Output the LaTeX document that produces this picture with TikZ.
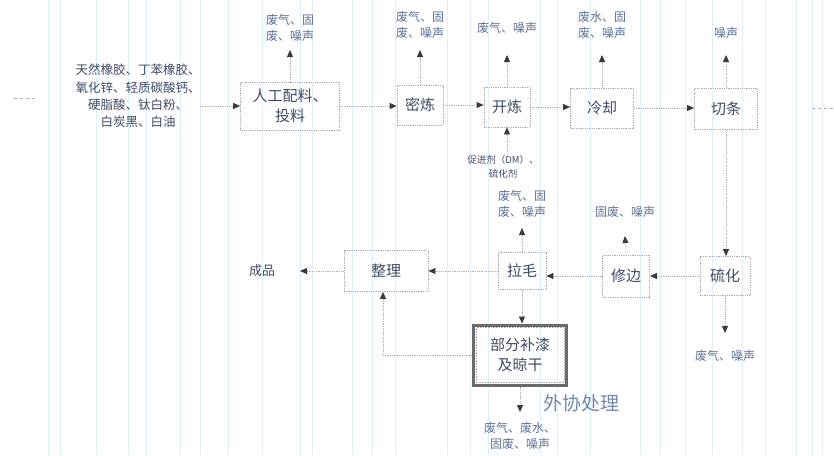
\documentclass[tikz,border=0pt]{standalone}
\usepackage{fontspec}
\setmainfont{Noto Sans CJK SC}
\usetikzlibrary{arrows.meta,calc}
\definecolor{boxline}{HTML}{A8ADB5}
\definecolor{boxtext}{HTML}{3E4A63}
\definecolor{emtext}{HTML}{5C6F94}
\definecolor{flowline}{HTML}{A9B0BC}
\definecolor{tipcol}{HTML}{3A3A3A}
\definecolor{thickcol}{HTML}{6A6A6A}
\definecolor{hand}{HTML}{7086AE}
\definecolor{scanline}{HTML}{DDF1F8}
\tikzset{
  box/.style={draw=boxline, densely dotted, line width=0.8pt, text=boxtext,
    font=\fontsize{15}{20}\selectfont, align=center, inner sep=0pt},
  emis/.style={text=emtext, font=\fontsize{12}{16}\selectfont, align=center, inner sep=0pt},
  flow/.style={draw=flowline, densely dotted, line width=0.8pt,
    -{Triangle[length=7pt,width=6pt,color=tipcol]}},
  plainline/.style={draw=flowline, densely dotted, line width=0.8pt},
}
\begin{document}
\begin{tikzpicture}[x=1pt,y=-1pt]
\useasboundingbox (0,0) rectangle (834,455);
% faint scan lines
\foreach \xx in {48,60,96,128,146,180,200,228,262,300,312,352,372,395,447,470,488,540,557,590,640,660,685,712,742,765,796,812,822}
  \draw[scanline, line width=0.9pt] (\xx,0) -- (\xx,455);

% input materials
\node[text=boxtext, font=\fontsize{12.5}{17.3}\selectfont, align=center, inner sep=0pt] (in) at (138,96)
  {天然橡胶、丁苯橡胶、\\氧化锌、轻质碳酸钙、\\硬脂酸、钛白粉、\\白炭黑、白油};

% process boxes
\node[box, minimum width=99, minimum height=48] (b1) at (290,106) {人工配料、\\投料};
\node[box, minimum width=46, minimum height=40] (b2) at (420,105) {密炼};
\node[box, minimum width=46, minimum height=40] (b3) at (507,107) {开炼};
\node[box, minimum width=63, minimum height=40] (b4) at (602,108) {冷却};
\node[box, minimum width=63, minimum height=41] (b5) at (726,109) {切条};
\node[box, minimum width=50, minimum height=39] (b6) at (725,276) {硫化};
\node[box, minimum width=47, minimum height=42] (b7) at (626,276) {修边};
\node[box, minimum width=48, minimum height=37] (b8) at (522,271) {拉毛};
\node[box, minimum width=84, minimum height=41] (b9) at (386,271) {整理};
\node[text=boxtext, font=\fontsize{13}{16}\selectfont, inner sep=0pt] (out) at (262,271) {成品};
\node[draw=thickcol, line width=3pt, text=boxtext, font=\fontsize{15}{20}\selectfont,
  align=center, minimum width=93, minimum height=60, inner sep=0pt] (b10) at (520,355) {部分补漆\\及晾干};
\draw[boxline, densely dotted, line width=0.6pt] ([shift={(4,4)}]b10.north west) rectangle ([shift={(-4,-4)}]b10.south east);

% emission labels
\node[emis] (e1) at (290,28) {废气、固\\废、噪声};
\node[emis] (e2) at (420,25) {废气、固\\废、噪声};
\node[emis] (e3) at (507,28) {废气、噪声};
\node[emis] (e4) at (602,25) {废水、固\\废、噪声};
\node[emis] (e5) at (726,33) {噪声};
\node[emis] (e6) at (725,356) {废气、噪声};
\node[emis] (e7) at (625,212) {固废、噪声};
\node[emis] (e8) at (522,204) {废气、固\\废、噪声};
\node[emis] (e9) at (520,436) {废气、废水、\\固废、噪声};
\node[text=boxtext, font=\fontsize{9.5}{14}\selectfont, align=center, inner sep=0pt] (dm) at (503,167) {促进剂（DM）、\\硫化剂};
\node[text=hand, font=\fontsize{19}{22}\selectfont, inner sep=0pt] (wx) at (581,403) {外协处理};

% coordinates for arrow ends
\coordinate (t1) at (290,50);
\coordinate (t2) at (420,50);
\coordinate (t3) at (507,55);
\coordinate (t4) at (602,55);
\coordinate (t5) at (726,55);
\coordinate (t6) at (725,333);
\coordinate (t7) at (625,236);
\coordinate (t8) at (522,228);
\coordinate (t9) at (520,412);
\coordinate (s1) at (200,106);
\coordinate (o1) at (300,271);
\coordinate (L1) at (14,98);
\coordinate (L2) at (36,98);
\coordinate (R1) at (812,108);
\coordinate (R2) at (834,108);
\coordinate (dmtop) at (507,154);

% stray dashes
\draw[plainline, dashed] (L1) -- (L2);
\draw[plainline, dashed] (R1) -- (R2);

% main flow
\draw[flow] (s1) -- (b1.west);
\draw[flow] (b1.east) -- (b2.west |- b1.east);
\draw[flow] (b2.east) -- (b3.west |- b2.east);
\draw[flow] (b3.east) -- (b4.west |- b3.east);
\draw[flow] (b4.east) -- (b5.west |- b4.east);
\draw[flow] (b5.south) -- (b6.north -| b5.south);
\draw[flow] (b6.west) -- (b7.east |- b6.west);
\draw[flow] (b7.west) -- (b8.east |- b7.west);
\draw[flow] (b8.west) -- (b9.east |- b8.west);
\draw[flow] (b9.west) -- (o1);
\draw[flow] (b8.south) -- (b10.north -| b8.south);
\draw[flow] (b10.west) -| ([xshift=-3]b9.south);
\draw[flow] (dmtop) -- (b3.south);

% emissions
\draw[flow] (b1.north) -- (t1);
\draw[flow] (b2.north) -- (t2);
\draw[flow] (b3.north) -- (t3);
\draw[flow] (b4.north) -- (t4);
\draw[flow] (b5.north) -- (t5);
\draw[flow] (b6.south) -- (t6);
\draw[flow] (b7.north) -- (t7);
\draw[flow] (b8.north) -- (t8);
\draw[flow] (b10.south -| t9) -- (t9);
\end{tikzpicture}
\end{document}
